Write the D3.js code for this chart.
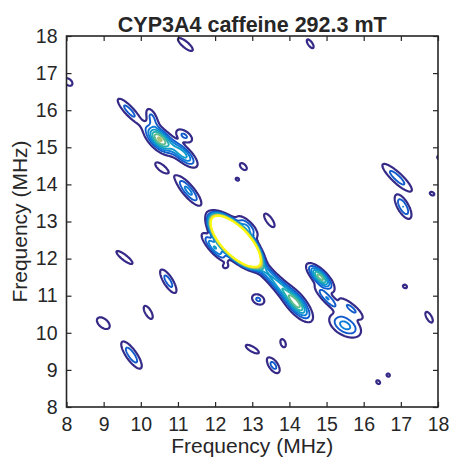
<!DOCTYPE html>
<html><head><meta charset="utf-8">
<script src="https://cdn.jsdelivr.net/npm/d3@7"></script>
<style>
body{margin:0;background:#fff}
svg{display:block}
text{font-family:"Liberation Sans",Arial,Helvetica,sans-serif;fill:#262626}
</style>
</head><body>
<svg id="chart" width="453" height="461"></svg>
<script>
// ---- chart text ----
const title = "CYP3A4 caffeine 292.3 mT";
const xLabel = "Frequency (MHz)";
const yLabel = "Frequency (MHz)";
const xTicks = [8, 9, 10, 11, 12, 13, 14, 15, 16, 17, 18];
const yTicks = [8, 9, 10, 11, 12, 13, 14, 15, 16, 17, 18];

// ---- contour levels (intensity units) ----
const levels = [1, 2, 3, 4, 5, 6, 7, 8, 9, 10];

// ---- peaks (MHz, intensity, widths in MHz, orientation deg) ----
const peakX   = [8.05, 11.2, 14.56, 9.69, 10.5, 11.12, 10.3, 11.17, 10.55, 11.28, 12.76, 12.6, 12.55, 12.86, 11.99, 13.3, 13.72, 14.18, 13.46, 12.27, 13.16, 14.83, 15.02, 15.66, 15.5, 13.0, 13.83, 13.57, 16.9, 17.06, 17.84, 18.03, 17.11, 17.76, 16.66, 16.39, 9.56, 10.74, 10.2, 8.99, 9.75];
const peakY   = [16.76, 17.77, 17.79, 15.98, 15.22, 14.83, 15.8, 15.31, 14.45, 13.83, 14.48, 14.14, 12.47, 12.86, 12.3, 11.72, 11.28, 10.8, 13.03, 11.79, 10.9, 11.5, 10.93, 10.66, 10.2, 9.56, 9.72, 9.12, 14.18, 13.4, 13.75, 14.72, 11.25, 10.42, 8.86, 8.67, 12.03, 11.39, 10.55, 10.26, 9.4];
const peakAmp = [1.5, 1.5, 1.4, 2.4, 7, 4.5, 2.2, 2.2, 1.5, 3.3, 1.4, 1.2, 1000, 3, 4, 3.2, 3.5, 6.5, 1.5, 1.25, 2.2, 6.5, 3, 2.2, 3.4, 1.5, 1.4, 2.4, 2.5, 3, 1.3, 1.3, 1.3, 1.5, 1.25, 1.3, 1.5, 2.5, 1.5, 2, 2.7];
const peakLen = [0.14, 0.28, 0.17, 0.33, 0.28, 0.3, 0.2, 0.19, 0.22, 0.33, 0.14, 0.08, 0.29, 0.25, 0.3, 0.3, 0.3, 0.33, 0.24, 0.07, 0.14, 0.26, 0.3, 0.3, 0.3, 0.22, 0.14, 0.18, 0.39, 0.25, 0.09, 0.08, 0.08, 0.18, 0.07, 0.08, 0.3, 0.27, 0.22, 0.17, 0.31];
const peakWid = [0.09, 0.09, 0.07, 0.09, 0.14, 0.115, 0.09, 0.1, 0.09, 0.1, 0.08, 0.06, 0.12, 0.1, 0.09, 0.1, 0.1, 0.13, 0.09, 0.06, 0.1, 0.1, 0.08, 0.09, 0.17, 0.075, 0.08, 0.09, 0.1, 0.1, 0.06, 0.06, 0.06, 0.075, 0.06, 0.06, 0.08, 0.09, 0.09, 0.1, 0.1];
const peakAng = [-40, -40, -55, -47, -45, -42, -65, -35, -40, -50, -45, -30, -46, -45, -48, -48, -48, -50, -55, 0, -30, -45, -45, -40, -30, -30, -70, -55, -43, -60, -30, -45, -30, -60, -30, -45, -38, -58, -60, -40, -55];

// parula-like colormap stops
const parula = ["#352a87", "#0363e1", "#1485d4", "#06a7c6", "#38b99e", "#92bf73", "#d9ba56", "#fcce2e", "#f9fb0e"];

// ---- layout ----
const L = 66.5, R = 438, T = 36, B = 407;
const svg = d3.select("#chart");
const xs = d3.scaleLinear().domain([8, 18]).range([L, R]);
const ys = d3.scaleLinear().domain([8, 18]).range([B, T]);

// ---- build intensity grid from peaks ----
const g0 = 7.6, g1 = 18.4, step = 0.02;
const n = Math.round((g1 - g0) / step) + 1;
const values = new Float64Array(n * n);
peakX.forEach((px, k) => {
  const t = peakAng[k] * Math.PI / 180, c = Math.cos(t), s = Math.sin(t);
  const a = peakAmp[k], sl = peakLen[k], sw = peakWid[k];
  const rad = Math.max(sl, sw) * 7;
  const i0 = Math.max(0, Math.floor((px - rad - g0) / step)), i1 = Math.min(n - 1, Math.ceil((px + rad - g0) / step));
  const j0 = Math.max(0, Math.floor((peakY[k] - rad - g0) / step)), j1 = Math.min(n - 1, Math.ceil((peakY[k] + rad - g0) / step));
  for (let j = j0; j <= j1; j++) {
    const dy = g0 + j * step - peakY[k];
    for (let i = i0; i <= i1; i++) {
      const dx = g0 + i * step - px;
      const u = dx * c + dy * s, v = -dx * s + dy * c;
      values[j * n + i] += a * Math.exp(-0.5 * (u * u / (sl * sl) + v * v / (sw * sw)));
    }
  }
});

const contours = d3.contours().size([n, n]).thresholds(levels)(values);
const proj = d3.geoTransform({
  point(gx, gy) { this.stream.point(xs(g0 + (gx - 0.5) * step), ys(g0 + (gy - 0.5) * step)); }
});
const path = d3.geoPath(proj);
const color = d => d3.interpolateRgbBasis(parula)((d - levels[0]) / (levels[levels.length - 1] - levels[0]));

svg.append("defs").append("clipPath").attr("id", "clip")
  .append("rect").attr("x", L).attr("y", T).attr("width", R - L).attr("height", B - T);

svg.append("g").attr("clip-path", "url(#clip)")
  .selectAll("path").data(contours).join("path")
  .attr("d", path)
  .attr("fill", "none")
  .attr("stroke", d => color(d.value))
  .attr("stroke-width", d => d.value === levels[0] ? 2.2 : 1.9)
  .attr("stroke-linejoin", "round");

// ---- axes ----
const fs = "19.5px";
const ax = svg.append("g").attr("transform", `translate(0,${B})`)
  .call(d3.axisBottom(xs).tickValues(xTicks).tickSize(-5).tickPadding(10.5).tickFormat(d3.format("d")));
const ay = svg.append("g").attr("transform", `translate(${L},0)`)
  .call(d3.axisLeft(ys).tickValues(yTicks).tickSize(-5).tickPadding(9).tickFormat(d3.format("d")));
const at = svg.append("g").attr("transform", `translate(0,${T})`)
  .call(d3.axisTop(xs).tickValues(xTicks).tickSize(-5).tickFormat(""));
const ar = svg.append("g").attr("transform", `translate(${R},0)`)
  .call(d3.axisRight(ys).tickValues(yTicks).tickSize(-5).tickFormat(""));
[ax, ay, at, ar].forEach(g => {
  g.select(".domain").remove();
  g.selectAll(".tick line").attr("stroke", "#262626").attr("stroke-width", 1.2);
  g.selectAll(".tick text").attr("fill", "#262626").style("font-size", fs)
    .style("font-family", "'Liberation Sans', Arial, Helvetica, sans-serif");
});

svg.append("rect").attr("x", L).attr("y", T).attr("width", R - L).attr("height", B - T)
  .attr("fill", "none").attr("stroke", "#262626").attr("stroke-width", 1.6);

// ---- labels ----
svg.append("text").attr("x", (L + R) / 2).attr("y", 31.5).attr("text-anchor", "middle")
  .style("font-size", "21.5px").style("font-weight", "bold").attr("fill", "#000").text(title);
svg.append("text").attr("x", (L + R) / 2).attr("y", 453).attr("text-anchor", "middle")
  .style("font-size", "21px").text(xLabel);
svg.append("text").attr("transform", `translate(27,${(T + B) / 2}) rotate(-90)`).attr("text-anchor", "middle")
  .style("font-size", "21px").text(yLabel);
</script>
</body></html>
